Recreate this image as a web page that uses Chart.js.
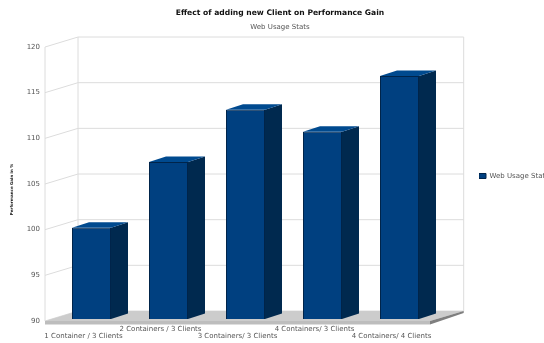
<!DOCTYPE html>
<html>
<head>
<meta charset="utf-8">
<title>Effect of adding new Client on Performance Gain</title>
<script src="https://cdn.jsdelivr.net/npm/chart.js@4/dist/chart.umd.min.js"></script>
<style>
    html, body { margin: 0; padding: 0; background: #fff; overflow: hidden; }
    canvas { display: block; }
</style>
</head>
<body>
<canvas id="gain-chart" width="544" height="343"></canvas>
<script>
const categories = [
    '1 Container / 3 Clients',
    '2 Containers / 3 Clients',
    '3 Containers/ 3 Clients',
    '4 Containers/ 3 Clients',
    '4 Containers/ 4 Clients'
];
const gainValues = [100, 107.2, 112.9, 110.5, 116.6];
const yTicks = [90, 95, 100, 105, 110, 115, 120];

const FONT = '"DejaVu Sans", sans-serif';
const TEXT = '#555555';
const GRID = '#dcdcdc';

// the box: bars stand inset from the front edge, the back wall is further up and right
const FRONT_X = -8, FRONT_Y = 2;
const BACK_X = 25, BACK_Y = -8;
const BAR_DX = 17, BAR_DY = -5.5;

function poly(ctx, pts, fill) {
    ctx.beginPath();
    pts.forEach((p, i) => i ? ctx.lineTo(p[0], p[1]) : ctx.moveTo(p[0], p[1]));
    ctx.closePath();
    ctx.fillStyle = fill;
    ctx.fill();
}

// Walls, gridlines and floor go behind the bars
const boxPlugin = {
    id: 'box',
    beforeDatasetsDraw(chart) {
        const { ctx, chartArea: area, scales: { y } } = chart;
        const fx = area.left + FRONT_X, bx = area.left + BACK_X;
        const rx = area.right + BACK_X + 0.7, frx = area.right + FRONT_X;
        const y0 = y.getPixelForValue(yTicks[0]);
        const yTop = y.getPixelForValue(yTicks[yTicks.length - 1]);

        ctx.save();
        ctx.strokeStyle = GRID;
        ctx.lineWidth = 1;
        ctx.beginPath();
        yTicks.forEach(v => {
            const py = y.getPixelForValue(v);
            ctx.moveTo(fx, py + FRONT_Y);
            ctx.lineTo(bx, py + BACK_Y);
            ctx.lineTo(rx, py + BACK_Y);
        });
        ctx.moveTo(fx, yTop + FRONT_Y);
        ctx.lineTo(fx, y0 + FRONT_Y);
        ctx.moveTo(bx, yTop + BACK_Y);
        ctx.lineTo(bx, y0 + BACK_Y);
        ctx.moveTo(rx, yTop + BACK_Y);
        ctx.lineTo(rx, y0 + BACK_Y);
        ctx.stroke();

        // floor slab with its front and right edges
        poly(ctx, [[fx, y0 + FRONT_Y], [bx, y0 + BACK_Y], [rx, y0 + BACK_Y], [frx, y0 + FRONT_Y]], '#cccccc');
        poly(ctx, [[fx, y0 + FRONT_Y], [frx, y0 + FRONT_Y], [frx, y0 + FRONT_Y + 3.5], [fx, y0 + FRONT_Y + 3.5]], '#bdbdbd');
        poly(ctx, [[frx, y0 + FRONT_Y], [rx, y0 + BACK_Y], [rx, y0 + BACK_Y + 2], [frx, y0 + FRONT_Y + 3.5]], '#7f7f7f');
        ctx.restore();
    },
    // Top and side faces hang off each bar element
    afterDatasetsDraw(chart) {
        const { ctx, scales: { y } } = chart;
        const floor = y.getPixelForValue(yTicks[0]);
        ctx.save();
        chart.getDatasetMeta(0).data.forEach(bar => {
            const l = bar.x - bar.width / 2, r = bar.x + bar.width / 2;
            poly(ctx, [[r, bar.y], [r + BAR_DX, bar.y + BAR_DY], [r + BAR_DX, floor + BAR_DY], [r, floor]], '#00294f');
            poly(ctx, [[l, bar.y], [l + BAR_DX, bar.y + BAR_DY], [r + BAR_DX, bar.y + BAR_DY], [r, bar.y]], '#004a8f');
        });
        ctx.restore();
    },
    // Small upright caption beside the value axis
    afterDraw(chart) {
        const { ctx } = chart;
        ctx.save();
        ctx.translate(11.5, 189.5);
        ctx.rotate(-Math.PI / 2);
        ctx.font = 'bold 4px ' + FONT;
        ctx.fillStyle = '#222222';
        ctx.textAlign = 'center';
        ctx.textBaseline = 'middle';
        ctx.fillText('Performance Gain in %', 0, 0);
        ctx.restore();
    },
    // Nudge the headings and legend into place once the layout is known
    afterLayout(chart) {
        chart.boxes.forEach(box => {
            if (box.position === 'top') {
                box.left += 61;
                box.right += 61;
            }
        });
        const legend = chart.legend;
        const w = legend.width;
        legend.left = 479;
        legend.right = 479 + w;
        legend.top += 39;
        legend.bottom += 39;
    }
};

new Chart(document.getElementById('gain-chart'), {
    type: 'bar',
    data: {
        labels: categories,
        datasets: [{
            label: 'Web Usage Stats',
            data: gainValues,
            backgroundColor: '#004080',
            borderColor: '#00244a',
            borderWidth: 1,
            barPercentage: 1,
            categoryPercentage: 39 / 77
        }]
    },
    options: {
        responsive: false,
        animation: false,
        layout: { padding: { right: 106 } },
        scales: {
            x: {
                grid: { display: false, drawTicks: false },
                border: { display: false },
                afterFit(scale) { scale.height = 24; },
                ticks: {
                    color: TEXT,
                    font: { family: FONT, size: 7, lineHeight: '7px' },
                    padding: 7,
                    labelOffset: FRONT_X,
                    autoSkip: false,
                    maxRotation: 0,
                    // labels alternate between two rows
                    callback(value, i) {
                        const name = this.getLabelForValue(value);
                        return i % 2 ? [name, ''] : ['', name];
                    }
                }
            },
            y: {
                min: yTicks[0],
                max: yTicks[yTicks.length - 1],
                grid: { display: false, drawTicks: false },
                border: { display: false },
                afterFit(scale) { scale.width = 53; },
                ticks: {
                    stepSize: yTicks[1] - yTicks[0],
                    color: TEXT,
                    font: { family: FONT, size: 7 },
                    padding: 13,
                    labelOffset: FRONT_Y
                }
            }
        },
        plugins: {
            title: {
                display: true,
                text: 'Effect of adding new Client on Performance Gain',
                color: '#111111',
                font: { family: FONT, size: 7.6, weight: 'bold' },
                padding: { top: 8.5, bottom: 0 }
            },
            subtitle: {
                display: true,
                text: 'Web Usage Stats',
                color: TEXT,
                font: { family: FONT, size: 7, weight: 'normal' },
                padding: { top: 5, bottom: 14 }
            },
            legend: {
                position: 'chartArea',
                labels: {
                    boxWidth: 7,
                    boxHeight: 5,
                    padding: 0,
                    color: TEXT,
                    font: { family: FONT, size: 7 }
                }
            },
            tooltip: { enabled: false }
        }
    },
    plugins: [boxPlugin]
});
</script>
</body>
</html>
